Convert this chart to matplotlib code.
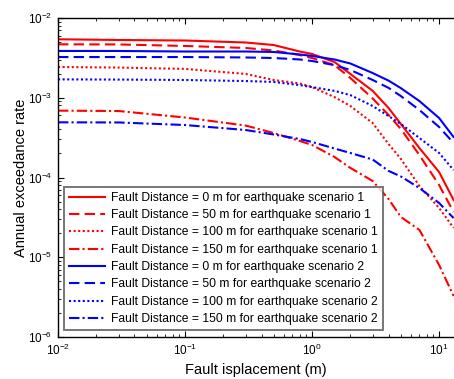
import numpy as np
import matplotlib
matplotlib.use("Agg")
import matplotlib.pyplot as plt
from matplotlib.ticker import LogLocator, NullFormatter

plt.rcParams['font.family'] = ['Liberation Sans', 'DejaVu Sans']
plt.rcParams['mathtext.fontset'] = 'custom'
plt.rcParams['mathtext.rm'] = 'Liberation Sans'

# Fault displacement (m)
disp = [0.01, 0.03, 0.1, 0.3, 0.5, 0.8, 1.0, 1.5, 2.0, 3.0, 4.0, 5.0, 7.0, 10.0, 13.0]

# Annual exceedance rate, earthquake scenario 1
s1_d0 = [5.41e-3, 5.30e-3, 5.22e-3, 4.93e-3, 4.58e-3, 3.80e-3, 3.54e-3, 2.81e-3, 1.99e-3,
         1.22e-3, 7.44e-4, 4.69e-4, 2.34e-4, 1.17e-4, 5.22e-5]
s1_d50 = [4.68e-3, 4.66e-3, 4.46e-3, 4.21e-3, 3.91e-3, 3.43e-3, 3.15e-3, 2.57e-3, 1.77e-3,
          9.80e-4, 6.08e-4, 4.06e-4, 1.91e-4, 8.05e-5, 3.69e-5]
s1_d100 = [2.43e-3, 2.39e-3, 2.30e-3, 1.99e-3, 1.67e-3, 1.51e-3, 1.36e-3, 1.02e-3, 7.88e-4,
           4.82e-4, 2.63e-4, 1.71e-4, 7.82e-5, 4.15e-5, 2.33e-5]
s1_d150 = [6.89e-4, 6.82e-4, 5.65e-4, 4.48e-4, 3.61e-4, 2.87e-4, 2.56e-4, 1.81e-4, 1.32e-4,
           9.04e-5, 5.37e-5, 3.20e-5, 2.20e-5, 8.0e-6, 3.27e-6]

# Annual exceedance rate, earthquake scenario 2
s2_d0 = [3.86e-3, 3.86e-3, 3.80e-3, 3.80e-3, 3.75e-3, 3.49e-3, 3.34e-3, 3.02e-3, 2.69e-3,
         2.04e-3, 1.64e-3, 1.32e-3, 9.09e-4, 5.57e-4, 3.22e-4]
s2_d50 = [3.24e-3, 3.24e-3, 3.24e-3, 3.20e-3, 3.15e-3, 3.02e-3, 2.89e-3, 2.57e-3, 2.23e-3,
          1.67e-3, 1.33e-3, 1.05e-3, 7.02e-4, 4.30e-4, 2.71e-4]
s2_d100 = [1.70e-3, 1.69e-3, 1.67e-3, 1.62e-3, 1.58e-3, 1.44e-3, 1.36e-3, 1.22e-3, 1.08e-3,
           7.88e-4, 5.90e-4, 4.69e-4, 3.13e-4, 2.03e-4, 1.24e-4]
s2_d150 = [4.92e-4, 4.90e-4, 4.55e-4, 3.94e-4, 3.46e-4, 3.04e-4, 2.79e-4, 2.31e-4, 2.03e-4,
           1.68e-4, 1.21e-4, 1.03e-4, 7.38e-5, 4.79e-5, 3.10e-5]

labels = [
    "Fault Distance = 0 m for earthquake scenario 1",
    "Fault Distance = 50 m for earthquake scenario 1",
    "Fault Distance = 100 m for earthquake scenario 1",
    "Fault Distance = 150 m for earthquake scenario 1",
    "Fault Distance = 0 m for earthquake scenario 2",
    "Fault Distance = 50 m for earthquake scenario 2",
    "Fault Distance = 100 m for earthquake scenario 2",
    "Fault Distance = 150 m for earthquake scenario 2",
]
series = [s1_d0, s1_d50, s1_d100, s1_d150, s2_d0, s2_d50, s2_d100, s2_d150]
colors = ['#ff0000'] * 4 + ['#0000ff'] * 4
styles = ['-', (0, (5, 2.5)), (0, (1, 1.2)), (0, (5, 1.5, 1, 1.5))] * 2

fig = plt.figure(figsize=(4.54, 3.79), dpi=100)
W, H = 454, 379
ax = fig.add_axes([58 / W, 1 - 337 / H, 396 / W, 319 / H])

for y, c, ls, lab in zip(series, colors, styles, labels):
    ax.plot(disp, y, color=c, linestyle=ls, linewidth=1.5, label=lab)

ax.set_xscale('log')
ax.set_yscale('log')
ax.set_xlim(0.01, 13.1)
ax.set_ylim(1e-6, 1e-2)

ax.spines['right'].set_visible(False)
for s in ['left', 'top', 'bottom']:
    ax.spines[s].set_linewidth(1.0)
ax.xaxis.set_major_locator(LogLocator(base=10, numticks=10))
ax.yaxis.set_major_locator(LogLocator(base=10, numticks=10))
ax.xaxis.set_minor_locator(LogLocator(base=10, subs=np.arange(2, 10), numticks=20))
ax.yaxis.set_minor_locator(LogLocator(base=10, subs=np.arange(2, 10), numticks=20))
ax.xaxis.set_minor_formatter(NullFormatter())
ax.yaxis.set_minor_formatter(NullFormatter())
ax.tick_params(which='both', direction='in', top=True, right=False, labelsize=8.5, colors='black')
ax.tick_params(which='major', length=4, width=0.8, pad=4)
ax.tick_params(which='minor', length=2.2, width=0.6)

ax.set_xlabel('Fault isplacement (m)', fontsize=10.5, labelpad=4)
ax.set_ylabel('Annual exceedance rate', fontsize=10.5, labelpad=0)

leg = ax.legend(loc='upper left', bbox_to_anchor=(6 / 396, (337 - 187) / 319),
                fontsize=8.7, frameon=True, fancybox=False, borderaxespad=0,
                handlelength=3.0, handletextpad=0.5, labelspacing=0.44,
                borderpad=0.4)
leg.get_frame().set_edgecolor('#555555')
leg.get_frame().set_linewidth(1.4)

fig.savefig('out.png', dpi=100)
